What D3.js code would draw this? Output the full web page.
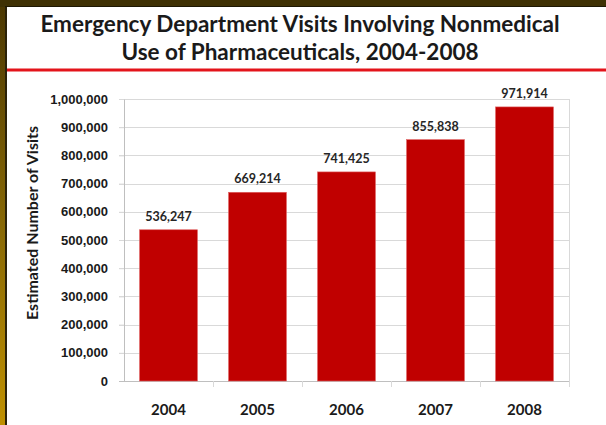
<!DOCTYPE html>
<html>
<head>
<meta charset="utf-8">
<script src="https://cdn.jsdelivr.net/npm/d3@7"></script>
<style>
  html, body { margin: 0; padding: 0; background: #fff; }
  svg { display: block; font-family: Lato, "Open Sans", sans-serif; }
</style>
</head>
<body>
<div id="chart"></div>
<script>
// chart data
var years = ['2004', '2005', '2006', '2007', '2008'];
var visits = [536247, 669214, 741425, 855838, 971914];
var yTicks = [0, 100000, 200000, 300000, 400000, 500000, 600000, 700000, 800000, 900000, 1000000];
var titleLines = ['Emergency Department Visits Involving Nonmedical', 'Use of Pharmaceuticals, 2004-2008'];
var yTitle = 'Estimated Number of Visits';

var W = 606, H = 425;
var margin = { top: 99, right: 37, bottom: 44, left: 124 };
var width = W - margin.left - margin.right;
var height = H - margin.top - margin.bottom;

var svg = d3.select('#chart').append('svg')
    .attr('width', W)
    .attr('height', H);

// frame decoration (slide border)
var defs = svg.append('defs');
var grad = defs.append('linearGradient')
    .attr('id', 'sideGrad')
    .attr('x1', 0).attr('y1', 0).attr('x2', 0).attr('y2', 1);
grad.append('stop').attr('offset', '0%').attr('stop-color', '#4a3702');
grad.append('stop').attr('offset', '55%').attr('stop-color', '#8a6a05');
grad.append('stop').attr('offset', '100%').attr('stop-color', '#bf9000');

svg.append('rect').attr('x', 0).attr('y', 0).attr('width', W).attr('height', H).attr('fill', '#fff');
svg.append('rect').attr('x', 0).attr('y', 0).attr('width', 6).attr('height', H).attr('fill', 'url(#sideGrad)');
svg.append('rect').attr('x', 5).attr('y', 6).attr('width', 2).attr('height', H).attr('fill', '#2b2208');
svg.append('rect').attr('x', 0).attr('y', 0).attr('width', W).attr('height', 7).attr('fill', '#3f3104');
svg.append('rect').attr('x', 5).attr('y', 6).attr('width', W).attr('height', 1).attr('fill', '#1e1804');

// title
svg.append('g').selectAll('text')
    .data(titleLines)
    .enter()
    .append('text')
    .attr('x', 300)
    .attr('y', function (d, i) { return 32 + i * 28; })
    .attr('text-anchor', 'middle')
    .style('font-size', '22.5px')
    .style('font-weight', 'bold')
    .attr('fill', '#1a1a1a')
    .text(function (d) { return d; });

svg.append('rect')
    .attr('x', 7).attr('y', 68.5)
    .attr('width', W - 7).attr('height', 3)
    .attr('fill', '#e3141b');

var g = svg.append('g')
    .attr('transform', 'translate(' + margin.left + ',' + margin.top + ')');

var x = d3.scaleBand()
    .domain(years)
    .range([0, width])
    .paddingInner(0.35)
    .paddingOuter(0.175);

var y = d3.scaleLinear()
    .domain([0, 1000000])
    .range([height, 0]);

// gridlines
g.append('g')
    .selectAll('line')
    .data(yTicks.slice(1))
    .enter()
    .append('line')
    .attr('x1', -5).attr('x2', width)
    .attr('y1', function (d) { return Math.round(y(d)) + 0.5; })
    .attr('y2', function (d) { return Math.round(y(d)) + 0.5; })
    .attr('stroke', '#d9d9d9')
    .attr('stroke-width', 1);

// right border of plot area
g.append('line')
    .attr('x1', width + 0.5).attr('x2', width + 0.5)
    .attr('y1', y(1000000)).attr('y2', height + 6)
    .attr('stroke', '#d9d9d9');

// y axis
var yAxis = d3.axisLeft(y)
    .tickValues(yTicks)
    .tickSizeInner(5)
    .tickSizeOuter(0)
    .tickPadding(11)
    .tickFormat(d3.format(','));

var gy = g.append('g').attr('class', 'y axis').call(yAxis);
gy.select('.domain').attr('stroke', '#bfbfbf');
gy.selectAll('line').attr('stroke', '#d9d9d9');
gy.selectAll('text')
    .style('font-size', '13px')
    .style('font-weight', 'bold')
    .attr('fill', '#1a1a1a');

// x axis: ticks at category boundaries
var gx = g.append('g')
    .attr('class', 'x axis')
    .attr('transform', 'translate(0,' + height + ')');
gx.append('line')
    .attr('x1', -5).attr('x2', width)
    .attr('y1', 0.5).attr('y2', 0.5)
    .attr('stroke', '#bfbfbf');
var step = x.step();
gx.selectAll('.tick')
    .data(d3.range(1, years.length + 1))
    .enter()
    .append('line')
    .attr('class', 'tick')
    .attr('x1', function (d) { return Math.round(d * step) + 0.5; })
    .attr('x2', function (d) { return Math.round(d * step) + 0.5; })
    .attr('y1', 0).attr('y2', 6)
    .attr('stroke', '#d9d9d9');
gx.selectAll('.cat')
    .data(years)
    .enter()
    .append('text')
    .attr('class', 'cat')
    .attr('x', function (d) { return x(d) + x.bandwidth() / 2; })
    .attr('y', 34)
    .attr('text-anchor', 'middle')
    .style('font-size', '15px')
    .style('font-weight', 'bold')
    .attr('fill', '#1a1a1a')
    .text(function (d) { return d; });

// bars
var bars = g.append('g').selectAll('.bar')
    .data(years.map(function (d, i) { return { name: d, value: visits[i] }; }))
    .enter()
    .append('g');

bars.append('rect')
    .attr('class', 'bar')
    .attr('x', function (d) { return x(d.name); })
    .attr('y', function (d) { return y(d.value); })
    .attr('width', x.bandwidth())
    .attr('height', function (d) { return height - y(d.value); })
    .attr('fill', '#c00000')
    .attr('stroke', '#e06060')
    .attr('stroke-width', 0.6);

bars.append('text')
    .attr('x', function (d) { return x(d.name) + x.bandwidth() / 2; })
    .attr('y', function (d) { return y(d.value) - 9; })
    .attr('text-anchor', 'middle')
    .style('font-size', '12.5px')
    .style('font-weight', 'bold')
    .attr('fill', '#262626')
    .text(function (d) { return d3.format(',')(d.value); });

// y axis title
svg.append('text')
    .attr('transform', 'translate(38,' + 223 + ') rotate(-90)')
    .attr('text-anchor', 'middle')
    .style('font-size', '16px')
    .style('font-weight', 'bold')
    .attr('fill', '#1a1a1a')
    .text(yTitle);
</script>
</body>
</html>
